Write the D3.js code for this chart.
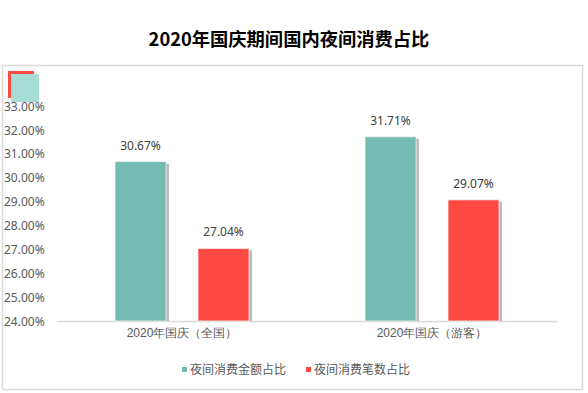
<!DOCTYPE html>
<html><head><meta charset="utf-8">
<script src="https://cdn.jsdelivr.net/npm/d3@7"></script>
<style>body{margin:0;background:#fff;}svg{display:block;font-family:"Noto Sans CJK SC","Noto Sans",sans-serif;}</style>
</head><body>
<svg id="c" width="588" height="393"></svg>
<script>
const categories = ["2020年国庆（全国）", "2020年国庆（游客）"];
const seriesNames = ["夜间消费金额占比", "夜间消费笔数占比"];
const amountShare = [30.67, 31.71];
const countShare = [27.04, 29.07];
const yTicks = [24, 25, 26, 27, 28, 29, 30, 31, 32, 33];
const colors = ["#76BBB2", "#FF4A44"];

const svg = d3.select("#c");
const plotLeft = 57, plotRight = 557, plotTop = 106, plotBottom = 321;

svg.append("rect").attr("x", 2.5).attr("y", 65.5).attr("width", 580).attr("height", 324)
  .attr("fill", "#fff").attr("stroke", "#d9d9d9").attr("stroke-width", 1.5);

svg.append("text").attr("x", 289).attr("y", 46).attr("text-anchor", "middle")
  .attr("font-size", 18.3).attr("font-weight", "bold").attr("fill", "#000")
  .text("2020年国庆期间国内夜间消费占比");

// decorative icon top-left
svg.append("rect").attr("x", 8).attr("y", 71).attr("width", 26).attr("height", 3).attr("fill", colors[1]);
svg.append("rect").attr("x", 8).attr("y", 71).attr("width", 3).attr("height", 27).attr("fill", colors[1]);
svg.append("rect").attr("x", 11).attr("y", 74).attr("width", 28).attr("height", 28).attr("fill", "#A8DDD5");

const y = d3.scaleLinear().domain([24, 33]).range([plotBottom, plotTop]);
const x0 = d3.scaleBand().domain(categories).range([plotLeft, plotRight]).paddingInner(0).paddingOuter(0);
const x1 = d3.scaleBand().domain(seriesNames).range([58, 192]).paddingInner(0.385);

// y tick labels
const yAxis = d3.axisLeft(y).tickValues(yTicks).tickFormat(d => d.toFixed(2) + "%").tickSize(0);
const yg = svg.append("g").attr("transform", "translate(4,0)").call(yAxis);
yg.select(".domain").remove();
yg.selectAll("text").attr("text-anchor", "start").attr("x", 0).attr("dy", "0.35em")
  .attr("font-size", 12).attr("fill", "#595959").attr("font-family", "'Noto Sans','Open Sans',sans-serif");

// x axis
const xAxis = d3.axisBottom(x0).tickSize(0);
const xg = svg.append("g").attr("transform", `translate(0,${plotBottom})`).call(xAxis);
xg.select(".domain").attr("stroke", "#d9d9d9").attr("stroke-width", 1.5);
xg.selectAll("text").attr("font-size", 12).attr("fill", "#595959").attr("dy", "1.1em");

const data = categories.map((c, i) => ({cat: c, vals: [
  {s: seriesNames[0], v: amountShare[i], c: colors[0]},
  {s: seriesNames[1], v: countShare[i], c: colors[1]}]}));

const g = svg.selectAll(".grp").data(data).join("g").attr("transform", d => `translate(${x0(d.cat)},0)`);
// shadows
g.selectAll(".sh").data(d => d.vals).join("rect")
  .attr("x", d => x1(d.s) + x1.bandwidth()).attr("y", d => y(d.v) + 2)
  .attr("width", 3).attr("height", d => plotBottom - y(d.v) - 2).attr("fill", "#bdbdbd");
g.selectAll(".bar").data(d => d.vals).join("rect")
  .attr("x", d => x1(d.s)).attr("y", d => y(d.v))
  .attr("width", x1.bandwidth()).attr("height", d => plotBottom - y(d.v))
  .attr("fill", d => d.c).attr("stroke", "#f2f2f2").attr("stroke-width", 0.8);
g.selectAll(".lbl").data(d => d.vals).join("text")
  .attr("x", d => x1(d.s) + x1.bandwidth() / 2).attr("y", d => y(d.v) - 12)
  .attr("text-anchor", "middle").attr("font-size", 12).attr("fill", "#404040")
  .attr("font-family", "'Noto Sans','Open Sans',sans-serif")
  .text(d => d.v.toFixed(2) + "%");

// legend
const leg = svg.append("g");
const legX = [182, 306];
seriesNames.forEach((s, i) => {
  leg.append("rect").attr("x", legX[i]).attr("y", 367).attr("width", 5).attr("height", 5).attr("fill", colors[i]);
  leg.append("text").attr("x", legX[i] + 8).attr("y", 374).attr("font-size", 12).attr("fill", "#595959").text(s);
});
</script>
</body></html>
